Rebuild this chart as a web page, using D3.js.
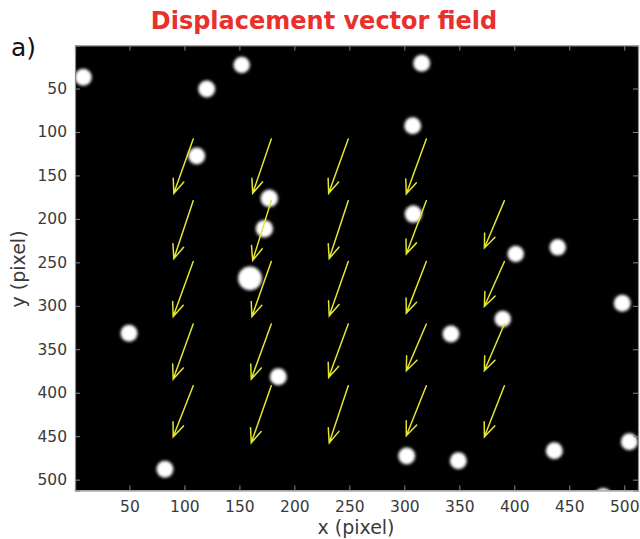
<!DOCTYPE html>
<html><head><meta charset="utf-8">
<script src="https://cdn.jsdelivr.net/npm/d3@7"></script>
<style>body{margin:0;background:#fff}svg{display:block}</style>
</head><body><svg id="c" width="640" height="539"></svg>
<script>
// ---- data ----
const titleText = "Displacement vector field";
const panelLabel = "a)";
const xLabel = "x (pixel)";
const yLabel = "y (pixel)";
const xTicks = [50,100,150,200,250,300,350,400,450,500];
const yTicks = [50,100,150,200,250,300,350,400,450,500];
const imageExtent = [0.5, 512.5];

// quiver grid (image pixels)
const gridX = [108,179,249,320,391];
const gridY = [108,179,249,321,392];
// displacement components per row (y) / column (x); null = no vector
const U = [
  [-17.6,-16.9,-17.8,-18.2,null],
  [-17.6,-16.9,-17.3,-18.2,-18.2],
  [-18.2,-17.6,-17.3,-18.2,-18.2],
  [-18.2,-18.2,-17.8,-18.2,-18.2],
  [-18.2,-18.2,-17.3,-18.2,-18.2]
];
const V = [
  [62.5,62.5,62.5,63.3,null],
  [66.7,68.7,66.7,61.3,54.4],
  [63.3,63.3,62.5,59.4,51.8],
  [63.3,63.3,61.3,53.7,53.7],
  [58.7,65.6,65.6,57.5,58.7]
];

// particles (image pixels)
const particleX = [8.0,120.3,152.1,315.8,307.6,111.2,177.2,172.7,308.2,159.6,49.6,401.3,439.5,342.4,389.5,498.2,185.4,82.3,302.2,349.1,436.4,504.6,480.9];
const particleY = [37.1,50.5,22.9,21.0,92.8,127.6,176.3,211.3,194.4,268.4,331.6,240.4,232.7,332.5,315.2,297.1,381.6,488.1,472.8,478.2,466.7,456.4,519.0];
const particleR = [7.7,7.7,7.5,7.7,7.7,7.7,7.9,7.9,7.9,10.8,7.7,7.5,7.5,7.7,7.5,7.7,7.7,7.7,7.7,7.7,7.7,7.7,7.5];

// ---- drawing ----
const svg = d3.select("#c");
const L = 75, R = 638, T = 45.5, B = 490.5;
const x = d3.scaleLinear().domain(imageExtent).range([L, R]);
const y = d3.scaleLinear().domain(imageExtent).range([T, B]);
const font = "'DejaVu Sans', sans-serif";

const defs = svg.append("defs");
defs.append("clipPath").attr("id","clip").append("rect")
  .attr("x",L).attr("y",T).attr("width",R-L).attr("height",B-T);
defs.append("filter").attr("id","blur").attr("x","-50%").attr("y","-50%").attr("width","200%").attr("height","200%")
  .append("feGaussianBlur").attr("stdDeviation",1.8);

// title
svg.append("text").attr("x",324).attr("y",29).attr("text-anchor","middle")
  .attr("font-family",font).attr("font-weight","bold").attr("font-size",24)
  .attr("fill","#e8302c").text(titleText);
svg.append("text").attr("x",11).attr("y",56)
  .attr("font-family",font).attr("font-size",25).attr("fill","#111").text(panelLabel);

// image background
const plot = svg.append("g").attr("clip-path","url(#clip)");
plot.append("rect").attr("x",L).attr("y",T).attr("width",R-L).attr("height",B-T).attr("fill","#000");

// particles
plot.append("g").attr("filter","url(#blur)").selectAll("circle")
  .data(particleX.map((px,i)=>({x:px,y:particleY[i],r:particleR[i]})))
  .join("circle")
  .attr("cx",d=>x(d.x)).attr("cy",d=>y(d.y))
  .attr("r",d=>x(d.r)-x(0))
  .attr("fill","#fff");

// quiver arrows
const vecs = [];
gridY.forEach((gy,ri)=>gridX.forEach((gx,ci)=>{
  if (U[ri][ci]!==null) vecs.push({x:gx,y:gy,u:U[ri][ci],v:V[ri][ci]});
}));
const yellow = "#e4e432";
const qg = plot.append("g").attr("stroke",yellow).attr("stroke-width",1.5).attr("fill","none").attr("stroke-linecap","round");
vecs.forEach(d=>{
  const x0 = x(d.x), y0 = y(d.y), x1 = x(d.x+d.u), y1 = y(d.y+d.v);
  const ang = Math.atan2(y1-y0, x1-x0);
  const hl = 15, ha = 22*Math.PI/180;
  const p = d3.path();
  p.moveTo(x0,y0); p.lineTo(x1,y1);
  p.moveTo(x1 - hl*Math.cos(ang-ha), y1 - hl*Math.sin(ang-ha));
  p.lineTo(x1,y1);
  p.lineTo(x1 - hl*Math.cos(ang+ha), y1 - hl*Math.sin(ang+ha));
  qg.append("path").attr("d",p.toString());
});

// axes box and ticks (inward)
const axCol = "#8a8a8a";
const xAxisB = d3.axisBottom(x).tickValues(xTicks).tickSize(-5).tickPadding(10);
const yAxisL = d3.axisLeft(y).tickValues(yTicks).tickSize(-5).tickPadding(8);
const gx = svg.append("g").attr("transform",`translate(0,${B})`).call(xAxisB);
const gy = svg.append("g").attr("transform",`translate(${L},0)`).call(yAxisL);
svg.append("g").attr("transform",`translate(0,${T})`).call(d3.axisTop(x).tickValues(xTicks).tickSize(-5).tickFormat(""));
svg.append("g").attr("transform",`translate(${R},0)`).call(d3.axisRight(y).tickValues(yTicks).tickSize(-5).tickFormat(""));
svg.selectAll(".domain").attr("stroke",axCol).attr("stroke-width",1.2);
svg.selectAll(".tick line").attr("stroke",axCol);
svg.selectAll(".tick text").attr("font-family",font).attr("font-size",15.5).attr("fill","#3a3a3a");
gx.selectAll(".tick text").attr("dy","0.71em");

// axis labels
svg.append("text").attr("x",356).attr("y",534).attr("text-anchor","middle")
  .attr("font-family",font).attr("font-size",19).attr("fill","#3a3a3a").text(xLabel);
svg.append("text").attr("transform","translate(25,269) rotate(-90)").attr("text-anchor","middle")
  .attr("font-family",font).attr("font-size",19).attr("fill","#3a3a3a").text(yLabel);
</script>
</body></html>
